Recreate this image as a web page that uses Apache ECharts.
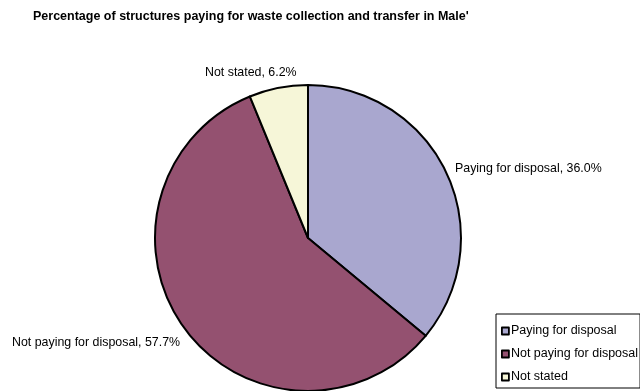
<!DOCTYPE html>
<html>
<head>
<meta charset="utf-8">
<script src="https://cdn.jsdelivr.net/npm/echarts@6/dist/echarts.min.js"></script>
<style>
  html, body { margin: 0; padding: 0; background: #ffffff; }
  #chart { width: 640px; height: 391px; }
</style>
</head>
<body>
<div id="chart"></div>
<script>
// Share of structures in Male' by payment status for waste collection/transfer
const categories = ['Paying for disposal', 'Not paying for disposal', 'Not stated'];
const shares = [36.0, 57.7, 6.2];
const sliceColors = ['#A9A7CF', '#945170', '#F6F6D8'];

// Where each slice label sits (left edge x, vertical centre y)
const labelSpots = [
  { x: 455, y: 169 },
  { x: 12, y: 343 },
  { x: 205, y: 73 }
];

const FONT = 'Liberation Sans, Arial, sans-serif';

const chart = echarts.init(document.getElementById('chart'), null, { renderer: 'canvas' });

chart.setOption({
  backgroundColor: '#ffffff',
  animation: false,
  title: {
    text: "Percentage of structures paying for waste collection and transfer in Male'",
    left: 28,
    top: 5,
    textStyle: {
      fontFamily: FONT,
      fontSize: 12.5,
      fontWeight: 'bold',
      color: '#000000'
    }
  },
  legend: {
    orient: 'vertical',
    left: 496,
    top: 314,
    data: categories,
    icon: 'rect',
    itemWidth: 7,
    itemHeight: 7,
    itemGap: 9,
    padding: [10, 2, 4, 5],
    borderColor: '#000000',
    borderWidth: 1,
    backgroundColor: '#ffffff',
    selectedMode: false,
    itemStyle: { borderColor: '#000000', borderWidth: 1.8 },
    textStyle: {
      fontFamily: FONT,
      fontSize: 12.5,
      lineHeight: 14,
      color: '#000000',
      padding: [0, 0, 0, -3]
    }
  },
  series: [{
    type: 'pie',
    center: [308, 238],
    radius: 153,
    startAngle: 90,
    clockwise: true,
    silent: true,
    data: categories.map((name, i) => ({
      name: name,
      value: shares[i],
      itemStyle: { color: sliceColors[i] }
    })),
    itemStyle: { borderColor: '#000000', borderWidth: 2 },
    label: {
      show: true,
      position: 'outside',
      overflow: 'none',
      width: 300,
      formatter: p => p.name + ', ' + p.value.toFixed(1) + '%',
      fontFamily: FONT,
      fontSize: 12.4,
      color: '#000000'
    },
    labelLine: { show: false },
    labelLayout: function (params) {
      const spot = labelSpots[params.dataIndex];
      return { x: spot.x, y: spot.y, align: 'left', verticalAlign: 'middle', hideOverlap: false };
    }
  }]
});
</script>
</body>
</html>
